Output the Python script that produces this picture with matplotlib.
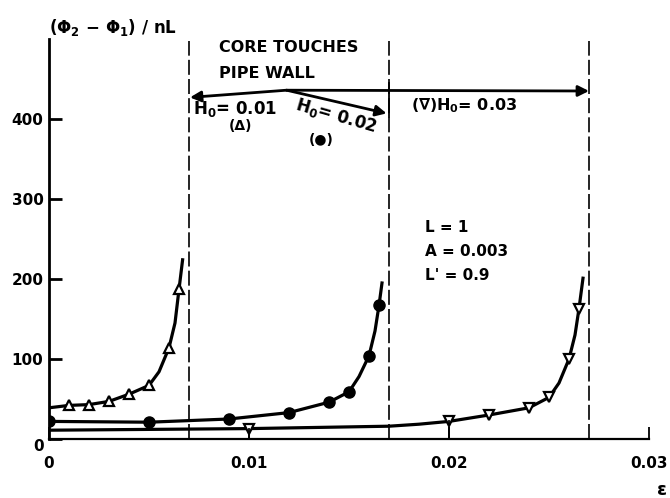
import matplotlib.pyplot as plt

plt.rcParams['font.family'] = ['DejaVu Sans']
plt.rcParams['font.weight'] = 'bold'
plt.rcParams['mathtext.default'] = 'regular'

# H0 = 0.01 (open triangles up)
eps_h001 = [0.001, 0.002, 0.003, 0.004, 0.005, 0.006, 0.0065]
val_h001 = [42, 43, 47, 56, 67, 114, 187]
curve_h001_x = [0, 0.001, 0.002, 0.003, 0.004, 0.005, 0.0055, 0.006, 0.0063, 0.0065, 0.00668]
curve_h001_y = [39, 42, 43, 47, 56, 67, 84, 114, 145, 187, 224]

# H0 = 0.02 (filled circles)
eps_h002 = [0, 0.005, 0.009, 0.012, 0.014, 0.015, 0.016, 0.0165]
val_h002 = [22, 21, 25, 33, 46, 59, 104, 167]
curve_h002_x = [0, 0.005, 0.007, 0.009, 0.012, 0.014, 0.015, 0.0155, 0.016, 0.0163, 0.0165, 0.01665]
curve_h002_y = [22, 21, 23, 25, 33, 46, 59, 78, 104, 135, 167, 195]

# H0 = 0.03 (open triangles down)
eps_h003 = [0.01, 0.02, 0.022, 0.024, 0.025, 0.026, 0.0265]
val_h003 = [13, 22, 30, 39, 52, 100, 163]
curve_h003_x = [0, 0.01, 0.017, 0.0185, 0.02, 0.022, 0.024, 0.025, 0.0255, 0.026, 0.0263, 0.0265, 0.0267]
curve_h003_y = [11, 13, 16, 18.5, 22, 30, 39, 52, 70, 100, 130, 163, 201]

# core touches pipe wall
wall_eps = [0.007, 0.017, 0.027]

xticks = [0, 0.01, 0.02, 0.03]
xtick_labels = ['0', '0.01', '0.02', '0.03']
yticks = [0, 100, 200, 300, 400]

fig = plt.figure(figsize=(6.7, 4.98), dpi=100)
ax = fig.add_axes([49 / 670, 59 / 498, 600 / 670, 400 / 498])

lw = 2.3
ax.plot(curve_h001_x, curve_h001_y, color='black', lw=lw)
ax.plot(curve_h002_x, curve_h002_y, color='black', lw=lw)
ax.plot(curve_h003_x, curve_h003_y, color='black', lw=lw)

ax.plot(eps_h001, val_h001, ls='none', marker='^', ms=6.5, mfc='white', mec='black', mew=1.6)
ax.plot(eps_h002, val_h002, ls='none', marker='o', ms=8, mfc='black', mec='black')
ax.plot(eps_h003, val_h003, ls='none', marker='v', ms=6.5, mfc='white', mec='black', mew=1.6)

# drop lines from the triangles at the labelled ticks
for x, y in zip(eps_h003, val_h003):
    if x in (0.01, 0.02):
        ax.plot([x, x], [0, y], color='black', lw=1.3)

for x in wall_eps:
    ax.axvline(x, ymax=0.994, color='black', lw=1.2, ls=(0, (9, 2.5)))
ax.plot([0.017, 0.017], [403, 445], color='black', lw=1.3)

# arrows
arrow = dict(arrowstyle='-|>', color='black', lw=2, mutation_scale=16, shrinkA=0, shrinkB=0)
jx, jy = 0.01188, 436
ax.annotate('', xy=(0.00705, 427), xytext=(jx, jy), arrowprops=arrow)
ax.annotate('', xy=(0.0270, 435), xytext=(jx, jy), arrowprops=arrow)
ax.annotate('', xy=(0.01688, 407), xytext=(jx, jy), arrowprops=arrow)

fs = 11
ax.text(0.0085, 490, 'CORE TOUCHES', fontsize=11.5, va='center', ha='left')
ax.text(0.0085, 457, 'PIPE WALL', fontsize=11.5, va='center', ha='left')
ax.text(0.0072, 412, 'H$_0$= 0.01', fontsize=12, va='center', ha='left')
ax.text(0.0096, 391, '(Δ)', fontsize=10, va='center', ha='center')
ax.text(0.01438, 404, 'H$_0$= 0.02', fontsize=12, va='center', ha='center',
        rotation=-16, rotation_mode='anchor')
ax.text(0.01363, 374, '(●)', fontsize=10, va='center', ha='center')
ax.text(0.0181, 417, '(∇)H$_0$= 0.03', fontsize=11.5, va='center', ha='left')

ax.text(0.0188, 264, 'L = 1', fontsize=fs, va='center', ha='left')
ax.text(0.0188, 234, 'A = 0.003', fontsize=fs, va='center', ha='left')
ax.text(0.0188, 204, "L' = 0.9", fontsize=fs, va='center', ha='left')

ax.text(0, 514, '(Φ$_2$ − Φ$_1$) / nL', fontsize=12, va='center', ha='left', clip_on=False)
ax.text(0.03065, -64, 'ε', fontsize=13, va='center', ha='center', clip_on=False)

ax.set_xlim(0, 0.03)
ax.set_ylim(0, 500)
ax.spines['top'].set_visible(False)
ax.spines['right'].set_visible(False)
ax.spines['left'].set_linewidth(2)
ax.spines['bottom'].set_linewidth(1.6)

ax.set_xticks(xticks)
ax.set_xticklabels(xtick_labels)
ax.set_yticks(yticks)
ax.tick_params(axis='y', direction='in', length=9, width=2, labelsize=fs, pad=4)
ax.tick_params(axis='x', direction='in', length=9, width=1.3, labelsize=fs, pad=12)
ax.get_yticklabels()[0].set_va('top')

plt.savefig('out.png', dpi=100)
